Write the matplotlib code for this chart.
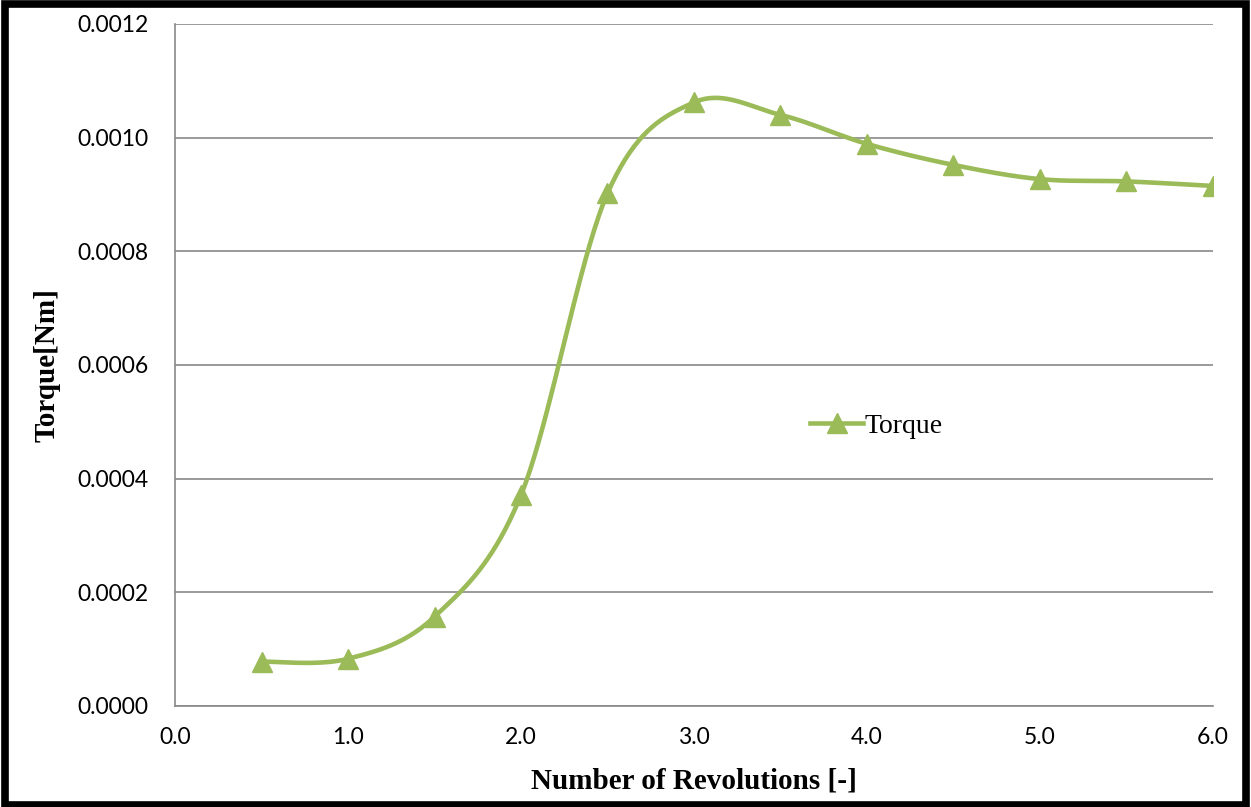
import numpy as np
import matplotlib.pyplot as plt
from matplotlib.patches import Rectangle

revs = [0.5, 1.0, 1.5, 2.0, 2.5, 3.0, 3.5, 4.0, 4.5, 5.0, 5.5, 6.0]
torque = [0.000078, 0.000083, 0.000157, 0.000371, 0.000902, 0.001062,
          0.001040, 0.000989, 0.000952, 0.000927, 0.000923, 0.000915]
x_ticks = [0.0, 1.0, 2.0, 3.0, 4.0, 5.0, 6.0]
y_ticks = [0.0, 0.0002, 0.0004, 0.0006, 0.0008, 0.0010, 0.0012]

green = '#9bbb59'
grey = '#898989'


def excel_smooth(x, y, n=40):
    # bezier smoothing like the "smoothed line" option in Excel
    x = np.asarray(x, float)
    y = np.asarray(y, float)
    px = np.concatenate([[x[0]], x, [x[-1]]])
    py = np.concatenate([[y[0]], y, [y[-1]]])
    xs, ys = [], []
    t = np.linspace(0, 1, n)
    for i in range(1, len(px) - 2):
        p0 = np.array([px[i], py[i]])
        p3 = np.array([px[i + 1], py[i + 1]])
        p1 = p0 + (np.array([px[i + 1], py[i + 1]]) - np.array([px[i - 1], py[i - 1]])) / 6
        p2 = p3 - (np.array([px[i + 2], py[i + 2]]) - np.array([px[i], py[i]])) / 6
        b = ((1 - t) ** 3)[:, None] * p0 + (3 * (1 - t) ** 2 * t)[:, None] * p1 \
            + (3 * (1 - t) * t ** 2)[:, None] * p2 + (t ** 3)[:, None] * p3
        xs.extend(b[:, 0])
        ys.extend(b[:, 1])
    return xs, ys


fig = plt.figure(figsize=(12.51, 8.07), dpi=100)
ax = fig.add_axes([0.1399, 0.1252, 0.9696 - 0.1399, 0.9703 - 0.1252])

sx, sy = excel_smooth(revs, torque)
ax.plot(sx, sy, color=green, lw=3.3, solid_capstyle='round', zorder=3)
ax.plot(revs, torque, ls='none', marker='^', ms=15, color=green, zorder=4)
# legend proxy
ax.plot([], [], color=green, lw=3.3, marker='^', ms=15, label='Torque')

ax.set_xlim(0, 6)
ax.set_ylim(0, 0.0012)
ax.set_xticks(x_ticks)
ax.set_yticks(y_ticks)
ax.set_xticklabels(['%.1f' % v for v in x_ticks])
ax.set_yticklabels(['%.4f' % v for v in y_ticks])
ax.grid(axis='y', color=grey, lw=1.2)
ax.set_axisbelow(True)
for s in ['top', 'right']:
    ax.spines[s].set_visible(False)
for s in ['left', 'bottom']:
    ax.spines[s].set_color(grey)
    ax.spines[s].set_linewidth(1.2)
ax.tick_params(axis='both', length=0, labelsize=16.5)
ax.tick_params(axis='y', pad=19)
ax.tick_params(axis='x', pad=15)
for lbl in ax.get_xticklabels() + ax.get_yticklabels():
    lbl.set_fontfamily('Lato')

ax.set_xlabel('Number of Revolutions [-]', family='Liberation Serif',
              fontweight='bold', fontsize=21, labelpad=14)
ax.set_ylabel('Torque[Nm]', family='Liberation Serif',
              fontweight='bold', fontsize=21, labelpad=12)

ax.legend(loc='center left', bbox_to_anchor=(0.588, 0.41), frameon=False,
          prop={'family': 'Liberation Serif', 'size': 20},
          handlelength=1.9, handletextpad=0.05)

fig.patches.append(Rectangle((0.004, 0.003), 0.992, 0.992, transform=fig.transFigure,
                             fill=False, edgecolor='black', lw=5.5))

plt.savefig('out.png', dpi=100)
plt.close()
